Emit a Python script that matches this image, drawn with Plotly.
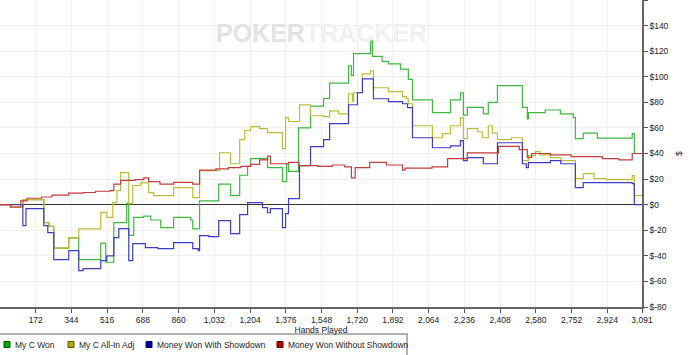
import plotly.graph_objects as go

# ---------------- data (hands played, $) ----------------
green_h = [0, 52, 110, 211, 235, 259, 331, 379, 485, 509, 548, 610, 620, 644, 692, 726, 774, 836, 918, 928,
           961, 1053, 1110, 1154, 1192, 1207, 1288, 1360, 1380, 1389, 1437, 1495, 1558, 1587, 1678, 1692,
           1702, 1784, 1793, 1840, 1870, 1928, 1966, 1986, 2082, 2169, 2217, 2231, 2250, 2327, 2351, 2395,
           2515, 2539, 2544, 2625, 2698, 2760, 2770, 2808, 2876, 3044, 3054, 3091]
green_v = [0, -1.5, 4, -14, -17, -34, -26, -43, -30, -45, -14, 1, -24, -10, -9, -12, -18, -10, -12, -19,
           3, 16, 7, 23, 30, 36, 29, 18, 32, 26, 60, 77, 83, 95, 108.6, 101,
           118, 128, 116, 112, 110, 106, 98, 82, 72, 82, 87.5, 70, 76, 71, 80, 93,
           76, 67, 72, 74, 71, 68, 51.6, 56, 52, 55.5, 40, 40]

yellow_h = [0, 52, 110, 211, 235, 259, 331, 379, 485, 514, 543, 563, 581, 620, 639, 677, 716, 740, 836, 928,
            961, 1057, 1110, 1154, 1178, 1207, 1250, 1288, 1360, 1375, 1389, 1442, 1495, 1558, 1587, 1630,
            1678, 1697, 1702, 1745, 1784, 1798, 1870, 1938, 1957, 1966, 1986, 2082, 2130, 2169, 2217, 2231,
            2250, 2300, 2322, 2351, 2370, 2395, 2463, 2515, 2544, 2578, 2600, 2650, 2700, 2770, 2808, 2860,
            2920, 3044, 3054, 3091]
yellow_v = [0, -1.5, 4, -14, -17, -34, -26, -19, -6, -10, 1.6, 11, 25, 0.8, 15, 17, 9.4, 7, 13.3, 5.5,
            26.6, 40.6, 32, 50.8, 58, 61, 59.4, 56.3, 43.8, 68, 65, 78, 69.5, 68.8, 73.4, 71,
            86.7, 81, 87.5, 102.3, 104.7, 91.4, 88.3, 84.4, 82.8, 78.9, 61.7, 52.3, 55.5, 61.7, 68, 51.6,
            59.4, 57, 52.3, 61.7, 56, 50.8, 52.3, 34.4, 38.3, 41.4, 39, 36.7, 34.4, 20.3, 24.2, 20.3,
            19.5, 22.7, 7, 7]

blue_h = [0, 110, 125, 211, 230, 259, 331, 379, 400, 485, 514, 548, 572, 620, 639, 700, 760, 836, 928, 955,
          961, 1005, 1053, 1110, 1154, 1192, 1264, 1288, 1302, 1360, 1375, 1389, 1442, 1495, 1558, 1587,
          1678, 1721, 1745, 1798, 1870, 1938, 1962, 1986, 2082, 2169, 2217, 2231, 2250, 2327, 2395, 2515,
          2534, 2544, 2650, 2700, 2770, 2808, 3044, 3054, 3091]
blue_v = [0, -16.4, -3.1, -16.4, -21.9, -43, -36, -51.6, -50, -43.8, -40, -25.8, -18.8, -43.8, -30.5, -33.6,
          -34.4, -29.7, -34.4, -36, -24.2, -25, -12.5, -22.7, -7.8, 1.6, -2.3, -6.3, -3.1, -18, -7, 4.7,
          30.5, 45.3, 50.8, 63.3, 78.1, 87.5, 98.4, 82.8, 80.5, 78.9, 75.8, 52.3, 44.5, 46, 50, 34.4, 36.7,
          32, 48.4, 32, 28.9, 32.8, 34.4, 32, 13.3, 17.2, 16.4, 0, -0.5]

red_h = [0, 50, 100, 130, 200, 250, 330, 400, 460, 530, 548, 581, 650, 692, 716, 770, 836, 928, 961, 1040,
         1100, 1160, 1207, 1250, 1288, 1302, 1390, 1440, 1530, 1600, 1660, 1692, 1710, 1780, 1860, 1938,
         1950, 2080, 2155, 2250, 2400, 2500, 2539, 2560, 2650, 2750, 2900, 2980, 3044, 3091]
red_v = [0, -2, 3, 5, 6, 7.5, 9, 9.5, 10.5, 11, 16, 19, 19.5, 21, 18, 16, 17.5, 16, 27, 28,
         29, 30, 31.5, 35, 38, 32, 33, 30.5, 30, 31, 29.5, 21, 29, 33, 31, 27,
         28.5, 29.5, 36, 40.5, 45.5, 43, 37, 40, 39, 37.5, 36, 35, 40, 40]

series_names = ["My C Won", "My C All-In Adj", "Money Won With Showdown", "Money Won Without Showdown"]

x_tickvals = [172 * i for i in range(1, 18)] + [3091]
x_ticktext = [f"{v:,}" for v in x_tickvals]
y_tickvals = list(range(-80, 161, 20))
y_ticktext = [f"${v}" for v in y_tickvals]

# ---------------- styling ----------------
line_colors = ["#3fb83f", "#bcbc3c", "#3c3cc4", "#c43c3c"]
swatch_fill = ["#00aa00", "#aaaa00", "#0000aa", "#bb0000"]
swatch_edge = ["#005500", "#555500", "#000055", "#550000"]
FONT = "Liberation Sans, Arial, sans-serif"
PW, PH = 642.0, 307.0  # plot area size in px

fig = go.Figure()
for h, v, c in [(green_h, green_v, line_colors[0]), (yellow_h, yellow_v, line_colors[1]),
                (blue_h, blue_v, line_colors[2]), (red_h, red_v, line_colors[3])]:
    fig.add_trace(go.Scatter(x=h, y=v, mode="lines", line=dict(color=c, width=1.2, shape="hv"),
                             showlegend=False, hoverinfo="skip"))

def px_x(p):
    return p / PW

def px_y(p):
    return (PH - p) / PH

shapes = []
annotations = []
# legend box
shapes.append(dict(type="rect", xref="paper", yref="paper", x0=px_x(-2), x1=px_x(407),
                   y0=px_y(358), y1=px_y(334), line=dict(color="#999999", width=1.5), fillcolor="white",
                   layer="above"))
sw_x = [4, 68, 146, 277]
tx_x = [13, 77, 155, 286]
for i, name in enumerate(series_names):
    shapes.append(dict(type="rect", xref="paper", yref="paper", x0=px_x(sw_x[i]), x1=px_x(sw_x[i] + 6),
                       y0=px_y(347.5), y1=px_y(341.5), fillcolor=swatch_fill[i],
                       line=dict(color=swatch_edge[i], width=1), layer="above"))
    annotations.append(dict(text=name, xref="paper", yref="paper", x=px_x(tx_x[i]), y=px_y(344.5),
                            xanchor="left", yanchor="middle", showarrow=False,
                            font=dict(family=FONT, size=8.5, color="#222222")))
# watermark
annotations.append(dict(text="<b>POKER</b><span style='color:#f1f1f1'><b>TRACKER</b></span>",
                        xref="paper", yref="paper", x=px_x(321), y=px_y(33), xanchor="center",
                        yanchor="middle", showarrow=False,
                        font=dict(family="Liberation Sans, Arial", size=25, color="#e3e3e3")))

fig.update_layout(
    width=700, height=355,
    margin=dict(l=0, r=58, t=0, b=48),
    paper_bgcolor="white", plot_bgcolor="white",
    font=dict(family=FONT, size=8.5, color="#222222"),
    shapes=shapes, annotations=annotations,
    xaxis=dict(range=[0, 3091], tickmode="array", tickvals=x_tickvals, ticktext=x_ticktext,
               showgrid=True, gridcolor="#efefef", gridwidth=1, zeroline=False,
               showline=True, linecolor="#666666", linewidth=1.5,
               ticks="outside", ticklen=4, tickcolor="#555555",
               tickfont=dict(size=8.5, color="#222222"),
               title=dict(text="Hands Played", font=dict(size=8.5, color="#222222"), standoff=3)),
    yaxis=dict(range=[-80, 160], side="right", tickmode="array", tickvals=y_tickvals, ticktext=y_ticktext,
               showgrid=True, gridcolor="#efefef", gridwidth=1,
               zeroline=True, zerolinecolor="#333333", zerolinewidth=1,
               showline=True, linecolor="#666666", linewidth=1.5,
               ticks="outside", ticklen=4, tickcolor="#555555",
               tickfont=dict(size=8.5, color="#222222"),
               title=dict(text="$", font=dict(size=8.5, color="#222222"), standoff=8)),
)

fig.write_html("out.html")
